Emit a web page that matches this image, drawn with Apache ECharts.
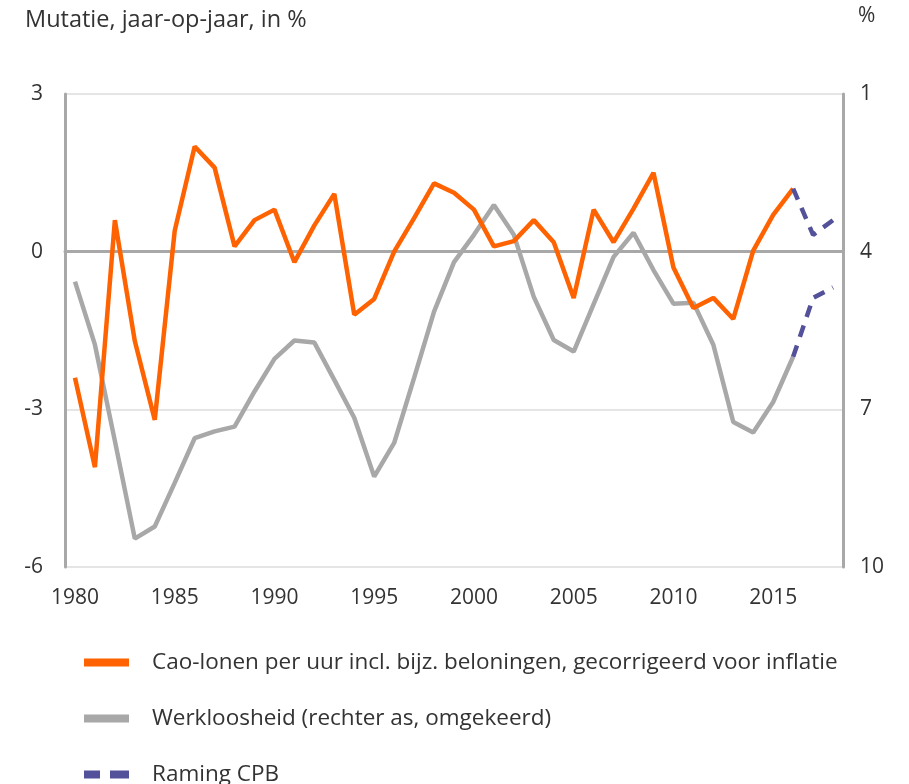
<!DOCTYPE html>
<html>
<head>
<meta charset="utf-8">
<script src="https://cdn.jsdelivr.net/npm/echarts@6/dist/echarts.min.js"></script>
<style>
html,body{margin:0;padding:0;background:#fff;}
#chart{width:909px;height:784px;}
</style>
</head>
<body>
<div id="chart"></div>
<script>
const years = [];
for (let y = 1980; y <= 2018; y++) years.push(String(y));

const wages = [-2.4, -4.1, 0.6, -1.7, -3.2, 0.4, 2.0, 1.6, 0.1, 0.6,
  0.8, -0.2, 0.5, 1.1, -1.2, -0.9, 0.0, 0.64, 1.3, 1.12,
  0.8, 0.1, 0.2, 0.6, 0.18, -0.88, 0.8, 0.18, 0.82, 1.5,
  -0.3, -1.07, -0.88, -1.28, 0.02, 0.7, 1.2, null, null];

const unemployment = [4.57, 5.77, 7.6, 9.46, 9.23, 8.4, 7.55, 7.42, 7.33, 6.66,
  6.04, 5.69, 5.73, 6.44, 7.16, 8.28, 7.64, 6.4, 5.14, 4.2,
  3.68, 3.11, 3.68, 4.86, 5.68, 5.9, 5.0, 4.1, 3.64, 4.35,
  4.99, 4.97, 5.77, 7.24, 7.44, 6.86, 6.0, null, null];

const wagesForecast = [null, null, null, null, null, null, null, null, null, null,
  null, null, null, null, null, null, null, null, null, null,
  null, null, null, null, null, null, null, null, null, null,
  null, null, null, null, null, null, 1.2, 0.32, 0.6];

const unemploymentForecast = [null, null, null, null, null, null, null, null, null, null,
  null, null, null, null, null, null, null, null, null, null,
  null, null, null, null, null, null, null, null, null, null,
  null, null, null, null, null, null, 6.0, 4.88, 4.68];

const leftTicks = {min: -6, max: 3, interval: 3};
const rightTicks = {min: 1, max: 10, interval: 3};

const seriesNames = [
  'Cao-lonen per uur incl. bijz. beloningen, gecorrigeerd voor inflatie',
  'Werkloosheid (rechter as, omgekeerd)',
  'Raming CPB'
];

const ORANGE = '#FF6200', GREY = '#A8A8A8', PURPLE = '#525199';
const FONT = 'Open Sans';

const chart = echarts.init(document.getElementById('chart'), null, {renderer: 'canvas'});
chart.setOption({
  backgroundColor: '#fff',
  animation: false,
  textStyle: {fontFamily: FONT, color: '#333'},
  graphic: [
    {type: 'text', left: 25, top: 8, style: {text: 'Mutatie, jaar-op-jaar, in %', fontFamily: FONT, fontSize: 23.5, fill: '#333'}},
    {type: 'text', left: 858, top: 6, style: {text: '%', fontFamily: FONT, fontSize: 21, fill: '#333'}}
  ],
  grid: {left: 65, right: 66, top: 94, bottom: 217, containLabel: false},
  legend: {
    orient: 'vertical',
    left: 84,
    top: 651,
    height: 200,
    padding: 0,
    itemWidth: 45,
    itemHeight: 8,
    itemGap: 33,
    textStyle: {fontFamily: FONT, fontSize: 22.5, lineHeight: 20, color: '#333', padding: [0, 0, 0, 18]},
    data: [
      {name: seriesNames[0], icon: 'rect', itemStyle: {color: ORANGE}},
      {name: seriesNames[1], icon: 'rect', itemStyle: {color: GREY}},
      {name: seriesNames[2], icon: 'path://M0,0h16v8h-16z M26,0h19v8h-19z', itemStyle: {color: PURPLE}}
    ]
  },
  xAxis: {
    type: 'category',
    data: years,
    boundaryGap: true,
    axisLine: {onZero: true, lineStyle: {color: GREY, width: 3}},
    axisTick: {show: false},
    axisLabel: {interval: 4, fontFamily: FONT, fontSize: 21, color: '#333', margin: 21},
    splitLine: {show: false}
  },
  yAxis: [
    {
      type: 'value', position: 'left',
      min: leftTicks.min, max: leftTicks.max, interval: leftTicks.interval,
      axisLine: {show: true, lineStyle: {color: GREY, width: 3}},
      axisTick: {show: false},
      axisLabel: {fontFamily: FONT, fontSize: 21, color: '#333', margin: 22},
      splitLine: {show: true, lineStyle: {color: '#DDDDDD', width: 1.5}}
    },
    {
      type: 'value', position: 'right', inverse: true,
      min: rightTicks.min, max: rightTicks.max, interval: rightTicks.interval,
      axisLine: {show: true, lineStyle: {color: GREY, width: 3}},
      axisTick: {show: false},
      axisLabel: {fontFamily: FONT, fontSize: 21, color: '#333', margin: 17},
      splitLine: {show: false}
    }
  ],
  series: [
    {name: seriesNames[1], type: 'line', yAxisIndex: 1, data: unemployment, showSymbol: false, symbol: 'none',
     lineStyle: {color: GREY, width: 4.5}, itemStyle: {color: GREY}, z: 2},
    {name: seriesNames[0], type: 'line', yAxisIndex: 0, data: wages, showSymbol: false, symbol: 'none',
     lineStyle: {color: ORANGE, width: 4.5}, itemStyle: {color: ORANGE}, z: 3},
    {name: seriesNames[2], type: 'line', yAxisIndex: 0, data: wagesForecast, showSymbol: false, symbol: 'none',
     lineStyle: {color: PURPLE, width: 4.5, type: [12, 9]}, itemStyle: {color: PURPLE}, z: 4},
    {name: seriesNames[2], type: 'line', yAxisIndex: 1, data: unemploymentForecast, showSymbol: false, symbol: 'none',
     lineStyle: {color: PURPLE, width: 4.5, type: [12, 9]}, itemStyle: {color: PURPLE}, z: 4}
  ]
});
</script>
</body>
</html>
